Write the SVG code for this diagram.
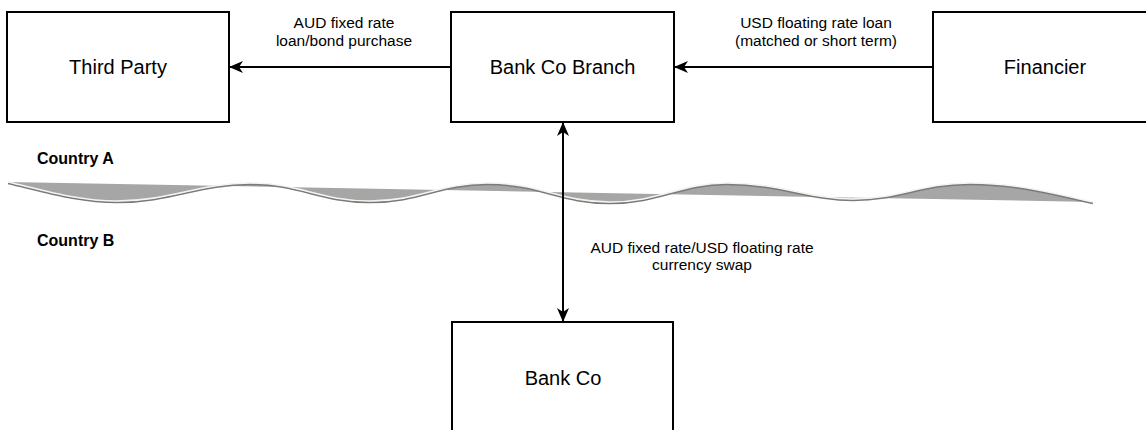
<svg xmlns="http://www.w3.org/2000/svg" width="1146" height="430" viewBox="0 0 1146 430">
  <style>
    .box { fill: #ffffff; stroke: #000000; stroke-width: 2; }
    .node-label { font-family: "Liberation Sans", Arial, sans-serif; font-size: 20px; fill: #000000; text-anchor: middle; }
    .edge-label { font-family: "Liberation Sans", Arial, sans-serif; font-size: 15.5px; fill: #000000; text-anchor: middle; }
    .country { font-family: "Liberation Sans", Arial, sans-serif; font-size: 16px; font-weight: bold; fill: #000000; }
    .conn { stroke: #000000; stroke-width: 2; fill: none; }
  </style>
  <defs>
    <marker id="arrow" viewBox="0 0 14 12" refX="13" refY="6" markerWidth="14" markerHeight="12" markerUnits="userSpaceOnUse" orient="auto-start-reverse">
      <path d="M0,0 L14,6 L0,12 L4,6 Z" fill="#000000"/>
    </marker>
  </defs>

  <rect width="1146" height="430" fill="#ffffff"/>

  <!-- border wave -->
  <g id="border">
    <path d="M8,182 C50,192 80,201 117,201 C170,201 200,183 250,183 C300,183 320,201 370,201 C420,201 440,183 487,183 C540,183 560,202 610,202 C660,202 680,183 727,183 C780,183 810,199 853,199 C900,199 920,183 970,183 C1020,183 1060,195 1093,202 Z" fill="#a6a6a6" fill-rule="evenodd"/>
    <path d="M8,182 C50,192 80,201 117,201 C170,201 200,183 250,183 C300,183 320,201 370,201 C420,201 440,183 487,183 C540,183 560,202 610,202 C660,202 680,183 727,183 C780,183 810,199 853,199 C900,199 920,183 970,183 C1020,183 1060,195 1093,202" fill="none" stroke="#7a7a7a" stroke-width="2" transform="translate(0,1.3)"/>
    <path d="M8,182 C50,192 80,201 117,201 C170,201 200,183 250,183 C300,183 320,201 370,201 C420,201 440,183 487,183 C540,183 560,202 610,202 C660,202 680,183 727,183 C780,183 810,199 853,199 C900,199 920,183 970,183 C1020,183 1060,195 1093,202" fill="none" stroke="#f4f4ec" stroke-width="1.6"/>
  </g>

  <text class="country" x="37" y="164">Country A</text>
  <text class="country" x="37" y="246">Country B</text>

  <!-- connectors -->
  <g id="connectors">
    <line class="conn" x1="451" y1="67" x2="230" y2="67" marker-end="url(#arrow)"/>
    <line class="conn" x1="933" y1="67" x2="675" y2="67" marker-end="url(#arrow)"/>
    <line class="conn" x1="563" y1="123" x2="563" y2="321" marker-start="url(#arrow)" marker-end="url(#arrow)"/>
    <text class="edge-label" x="344" y="28">AUD fixed rate</text>
    <text class="edge-label" x="344" y="46">loan/bond purchase</text>
    <text class="edge-label" x="816" y="28">USD floating rate loan</text>
    <text class="edge-label" x="816" y="46">(matched or short term)</text>
    <text class="edge-label" x="702" y="253">AUD fixed rate/USD floating rate</text>
    <text class="edge-label" x="702" y="270">currency swap</text>
  </g>

  <g id="third-party">
    <rect class="box" x="7" y="12" width="222" height="110"/>
    <text class="node-label" x="118" y="74">Third Party</text>
  </g>
  <g id="bank-co-branch">
    <rect class="box" x="451" y="12" width="223" height="110"/>
    <text class="node-label" x="562.5" y="74">Bank Co Branch</text>
  </g>
  <g id="financier">
    <rect class="box" x="933" y="12" width="224" height="110"/>
    <text class="node-label" x="1045" y="74">Financier</text>
  </g>
  <g id="bank-co">
    <rect class="box" x="452" y="322" width="221" height="110"/>
    <text class="node-label" x="563" y="385">Bank Co</text>
  </g>
</svg>
